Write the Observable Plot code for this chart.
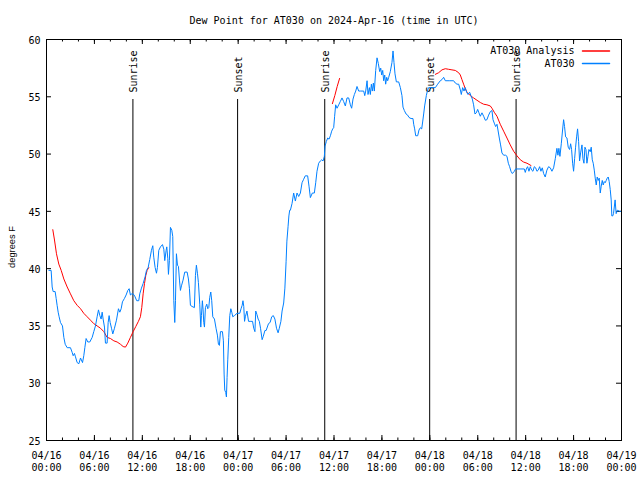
<!DOCTYPE html>
<html>
<head>
<meta charset="utf-8">
<script src="https://cdn.jsdelivr.net/npm/d3@7"></script>
<script src="https://cdn.jsdelivr.net/npm/@observablehq/plot@0.6"></script>
<style>
  html, body { margin: 0; padding: 0; background: #fff; }
  #chart svg { display: block; }
</style>
</head>
<body>
<div id="chart"></div>
<script>
// ---- Data (hours since 2024-04-16 00:00 UTC) ----
const titleText = "Dew Point for AT030 on 2024-Apr-16 (time in UTC)";
const yLabelText = "degrees F";
const seriesNames = ["AT030 Analysis", "AT030"];

const obsHours = [0.3,0.58,0.71,0.83,1.08,1.21,1.33,1.46,1.58,1.75,2.0,2.17,2.34,2.59,3.0,3.21,3.34,3.5,3.63,3.84,4.05,4.26,4.51,4.67,4.8,4.96,5.17,5.42,5.72,5.92,6.13,6.34,6.51,6.68,6.84,6.97,7.09,7.26,7.38,7.59,7.72,7.84,7.97,8.14,8.3,8.51,8.76,9.01,9.18,9.35,9.51,9.76,9.97,10.18,10.35,10.51,10.68,10.85,11.05,11.3,11.55,11.68,11.89,12.1,12.35,12.52,12.73,12.93,13.14,13.31,13.43,13.6,13.77,13.89,14.06,14.27,14.52,14.69,14.81,14.98,15.06,15.19,15.27,15.39,15.52,15.69,15.81,15.94,16.06,16.15,16.27,16.4,16.52,16.65,16.77,16.9,17.1,17.31,17.61,17.77,17.9,18.02,18.23,18.52,18.65,18.77,18.9,19.02,19.19,19.32,19.4,19.52,19.61,19.69,19.78,19.9,20.07,20.19,20.32,20.44,20.57,20.69,20.82,21.03,21.24,21.4,21.53,21.65,21.78,22.03,22.15,22.24,22.32,22.44,22.53,22.61,22.7,22.82,22.95,23.08,23.2,23.32,23.53,23.86,24.2,24.36,24.5,24.6,24.7,24.8,24.9,25.1,25.3,25.5,25.8,25.95,26.1,26.2,26.35,26.5,26.65,26.8,27.0,27.15,27.35,27.5,27.8,28.0,28.2,28.4,28.6,28.8,29.0,29.15,29.35,29.5,29.7,29.85,30.0,30.1,30.25,30.35,30.45,30.54,30.75,30.95,31.16,31.37,31.58,31.79,32.0,32.2,32.4,32.7,32.87,33.04,33.29,33.54,33.71,33.87,34.08,34.29,34.46,34.63,34.79,34.88,35.04,35.21,35.38,35.55,35.71,35.84,35.96,36.08,36.21,36.38,36.59,36.8,37.0,37.2,37.42,37.63,37.84,38.05,38.21,38.38,38.55,38.72,38.88,39.09,39.3,39.72,39.85,39.97,40.14,40.26,40.43,40.55,40.68,40.8,40.93,41.05,41.22,41.39,41.55,41.72,41.85,41.97,42.1,42.22,42.35,42.47,42.6,42.72,42.85,43.05,43.26,43.39,43.51,43.64,43.81,44.1,44.31,44.51,44.64,44.81,45.02,45.22,45.39,45.64,45.89,45.98,46.1,46.23,46.48,46.64,46.81,46.98,47.1,47.23,47.35,47.56,47.69,47.85,48.3,48.69,48.98,49.31,49.52,49.73,49.94,50.5,50.98,51.19,51.4,51.61,51.82,51.94,52.11,52.28,52.44,52.61,52.78,52.98,53.15,53.32,53.48,53.65,53.82,53.99,54.15,54.32,54.53,54.74,54.95,55.15,55.36,55.57,55.78,55.91,56.07,56.24,56.41,56.53,56.7,56.86,57.03,57.24,57.49,57.66,57.83,57.99,58.16,58.33,58.58,58.74,59.3,59.83,59.95,60.08,60.24,60.41,60.58,60.75,60.91,61.08,61.25,61.41,61.58,61.75,61.91,62.08,62.25,62.45,62.66,62.87,63.08,63.29,63.5,63.71,63.91,64.04,64.16,64.29,64.46,64.62,64.75,64.87,65.0,65.17,65.33,65.5,65.63,65.75,65.88,66.0,66.13,66.25,66.38,66.5,66.63,66.75,66.88,67.05,67.17,67.3,67.42,67.55,67.67,67.8,67.92,68.09,68.21,68.34,68.46,68.59,68.71,68.84,68.96,69.09,69.21,69.34,69.46,69.59,69.71,69.84,69.96,70.09,70.21,70.34,70.46,70.59,70.71,70.79,70.9,71.0,71.2,71.33,71.5,71.75,71.95];
const obsValues = [39.85,39.85,38.4,38.0,38.0,37.4,36.8,36.2,35.8,35.3,35.0,34.0,33.4,33.1,33.1,32.7,32.4,32.6,32.3,31.8,31.7,32.2,31.8,32.4,33.1,33.9,33.6,33.6,34.0,34.5,35.0,35.8,36.4,35.9,35.6,36.2,35.6,34.9,33.5,33.5,35.3,35.9,35.3,34.8,34.3,34.8,35.5,36.5,36.2,36.5,37.1,37.4,37.7,38.1,38.25,37.7,37.8,37.8,37.6,37.2,37.2,37.8,38.3,38.7,39.3,39.85,40.1,40.8,41.6,42.0,41.0,40.1,39.6,40.1,41.6,41.9,42.1,41.7,40.7,41.6,41.9,40.9,39.5,40.7,43.6,43.35,42.8,37.2,35.3,37.2,41.3,40.3,40.2,39.0,38.1,38.5,39.0,39.7,39.7,39.1,38.25,36.8,36.7,36.6,39.4,40.3,39.6,38.8,36.9,34.9,35.9,37.2,36.4,35.3,34.9,36.6,36.9,36.5,36.6,37.5,37.96,37.2,35.8,35.6,34.75,34.2,33.4,33.3,34.5,34.5,33.7,30.8,29.4,29.2,28.8,30.5,32.1,34.0,35.9,36.5,36.2,35.8,35.9,36.1,36.1,36.5,36.8,37.2,36.7,35.4,35.8,36.3,35.4,35.4,35.4,34.8,34.5,36.3,36.0,35.6,35.4,34.8,33.8,34.1,34.6,34.6,35.2,35.3,35.8,35.9,35.6,34.8,34.4,34.8,35.4,36.3,37.0,38.3,40.6,42.4,43.7,44.6,45.1,45.1,45.7,46.6,45.9,46.6,46.3,46.6,47.5,47.8,48.1,48.1,47.2,46.2,46.6,46.6,47.5,48.5,49.2,49.4,49.5,49.4,49.8,50.7,51.1,51.4,51.3,51.6,52.0,52.2,52.3,53.3,54.3,54.0,54.3,54.6,54.9,54.6,54.2,54.9,54.9,54.3,54.0,54.8,55.2,55.5,55.9,55.5,55.5,55.5,55.1,55.5,56.4,55.2,55.8,55.2,56.1,55.5,56.2,55.5,57.3,58.4,57.9,57.2,57.5,56.9,57.3,56.4,56.9,56.1,56.7,56.4,56.7,57.2,58.0,59.0,58.0,57.0,56.3,56.3,55.8,55.1,54.1,53.8,53.5,53.4,53.2,53.1,53.1,52.6,52.2,51.6,51.6,52.1,52.3,52.2,52.8,53.5,54.2,55.1,55.5,55.8,55.8,55.8,56.1,56.4,56.5,56.7,56.4,56.4,56.4,56.2,56.1,56.1,55.6,55.2,55.8,55.5,55.8,55.4,55.2,55.4,55.1,54.8,54.3,53.5,53.6,53.9,53.6,53.3,53.6,53.3,52.95,53.0,53.4,53.7,53.8,53.0,52.7,52.4,52.6,52.1,51.4,50.8,50.1,49.9,49.9,49.8,49.2,48.9,48.5,48.3,48.5,48.7,48.7,48.7,48.4,48.7,48.9,48.5,48.9,48.6,48.5,48.9,48.8,48.5,48.6,48.9,48.5,48.8,48.3,48.0,48.6,48.9,48.8,48.5,48.8,49.6,50.5,49.9,50.5,49.8,50.9,52.1,53.0,52.4,51.5,51.4,50.6,50.4,50.9,50.4,49.2,48.5,49.6,50.6,51.5,52.2,51.1,49.4,50.1,50.8,49.6,49.2,50.6,50.4,49.2,49.8,50.4,50.2,50.6,49.5,49.2,48.6,47.9,47.3,48.0,47.7,47.9,46.6,47.2,47.7,47.3,47.6,47.5,47.7,47.9,48.0,47.6,46.9,46.0,44.6,44.6,44.8,46.0,44.8,45.1,45.0,45.0];

const anaHours = [0.79,1.0,1.25,1.54,1.84,2.17,2.59,3.0,3.42,3.84,4.26,4.67,5.09,5.51,5.92,6.34,6.76,7.18,7.59,8.01,8.43,8.84,9.26,9.6,9.89,10.18,10.51,10.85,11.18,11.51,11.76,11.93,12.1,12.27,12.43,12.6,12.81,
  35.8,36.1,36.4,36.7,
  48.69,49.1,49.52,49.94,50.35,50.77,51.19,51.61,51.82,52.02,52.23,52.44,52.65,53.07,53.48,53.9,54.32,54.74,55.15,55.57,55.78,56.07,56.41,56.82,57.24,57.66,58.07,58.49,58.91,59.33,59.75,60.17,60.67];
const anaValues = [43.4,42.5,41.3,40.4,39.85,39.1,38.4,37.8,37.2,36.8,36.5,36.1,35.8,35.5,35.2,35.0,34.8,34.5,34.0,33.9,33.7,33.6,33.4,33.2,33.15,33.5,34.0,34.5,34.95,35.4,35.8,36.6,37.8,38.7,39.4,39.85,40.1,
  54.4,55.1,55.9,56.6,
  56.96,57.1,57.35,57.45,57.4,57.35,57.3,57.1,56.9,56.5,56.1,55.7,55.4,55.1,54.9,54.7,54.5,54.35,54.3,54.2,54.0,53.65,53.3,52.6,52.0,51.4,50.8,50.25,49.85,49.5,49.3,49.2,49.0];
const anaRun = [...Array(37).fill(0), ...Array(4).fill(1), ...Array(33).fill(2)];

const eventHours = [10.82, 23.93, 34.84, 47.98, 58.8];
const eventLabels = ["Sunrise", "Sunset", "Sunrise", "Sunset", "Sunrise"];

const yTicks = [25, 30, 35, 40, 45, 50, 55, 60];
const xStartHours = 0, xEndHours = 72, xMajorStep = 6, xMinorStep = 2;

// ---- Build tables ----
const base = Date.UTC(2024, 3, 16);
const toDate = h => new Date(base + h * 3600e3);
const obs = obsHours.map((h, i) => ({date: toDate(h), value: obsValues[i]}));
const ana = anaHours.map((h, i) => ({date: toDate(h), value: anaValues[i], run: anaRun[i]}));
const events = eventHours.map((h, i) => ({date: toDate(h), label: eventLabels[i]}));
const xMajor = d3.range(xStartHours, xEndHours + 0.001, xMajorStep).map(toDate);
const xMinor = d3.range(xStartHours, xEndHours + 0.001, xMinorStep).map(toDate);

// ---- Layout ----
const W = 640, H = 480, mL = 46, mR = 19, mT = 39, mB = 40;
const fw = W - mL - mR, fh = H - mT - mB;
const major = 5, minor = 2.5;
const fmt = d3.utcFormat("%m/%d\n%H:%M");
const lineShape = {draw(ctx, l) { ctx.moveTo(0, 0); ctx.lineTo(0, -l); }};
const RED = "#ff0000", BLUE = "#0080ff";

const chart = Plot.plot({
  width: W, height: H,
  marginLeft: mL, marginRight: mR, marginTop: mT, marginBottom: mB,
  style: {fontFamily: "'DejaVu Sans Mono', monospace", fontSize: "10px", color: "black", background: "white"},
  x: {type: "utc", domain: [toDate(xStartHours), toDate(xEndHours)], axis: null},
  y: {domain: [25, 60], axis: null},
  marks: [
    // ticks (inward, mirrored)
    Plot.ruleX(xMinor, {x: d => d, insetTop: fh - minor, stroke: "black"}),
    Plot.ruleX(xMinor, {x: d => d, insetBottom: fh - minor, stroke: "black"}),
    Plot.ruleX(xMajor, {x: d => d, insetTop: fh - major, stroke: "black"}),
    Plot.ruleX(xMajor, {x: d => d, insetBottom: fh - major, stroke: "black"}),
    Plot.ruleY(yTicks, {y: d => d, insetRight: fw - major, stroke: "black"}),
    Plot.ruleY(yTicks, {y: d => d, insetLeft: fw - major, stroke: "black"}),
    // tick labels
    Plot.text(xMajor, {x: d => d, text: d => fmt(d), frameAnchor: "bottom", lineAnchor: "top", dy: 10, lineHeight: 1.2}),
    Plot.text(yTicks, {y: d => d, text: d => String(d), frameAnchor: "left", textAnchor: "end", lineAnchor: "middle", dx: -6, dy: 1}),
    Plot.text([yLabelText], {text: d => d, frameAnchor: "left", textAnchor: "middle", lineAnchor: "middle", rotate: -90, dx: -34, dy: 7, fontFamily: "'Liberation Sans', sans-serif", fontSize: 9.3}),
    Plot.text([titleText], {text: d => d, frameAnchor: "top", textAnchor: "middle", lineAnchor: "middle", dy: -19}),
    // sunrise / sunset
    Plot.ruleX(events, {x: "date", insetTop: 60, stroke: "black"}),
    Plot.text(events, {x: "date", text: "label", frameAnchor: "top", rotate: -90, textAnchor: "start", lineAnchor: "middle", dy: 53, dx: 1}),
    // data
    Plot.line(ana, {x: "date", y: "value", z: "run", stroke: RED, strokeWidth: 1}),
    Plot.line(obs, {x: "date", y: "value", stroke: BLUE, strokeWidth: 1}),
    // legend
    Plot.text([seriesNames[0]], {text: d => d, frameAnchor: "top-right", textAnchor: "end", lineAnchor: "middle", dx: -47, dy: 11.5}),
    Plot.text([seriesNames[1]], {text: d => d, frameAnchor: "top-right", textAnchor: "end", lineAnchor: "middle", dx: -47, dy: 24}),
    Plot.vector([0], {frameAnchor: "top-right", dx: -12, dy: 11.5, rotate: -90, length: 27, anchor: "start", shape: lineShape, stroke: RED}),
    Plot.vector([0], {frameAnchor: "top-right", dx: -12, dy: 24, rotate: -90, length: 27, anchor: "start", shape: lineShape, stroke: BLUE}),
    Plot.frame({stroke: "black"})
  ]
});
document.getElementById("chart").appendChild(chart);
</script>
</body>
</html>
